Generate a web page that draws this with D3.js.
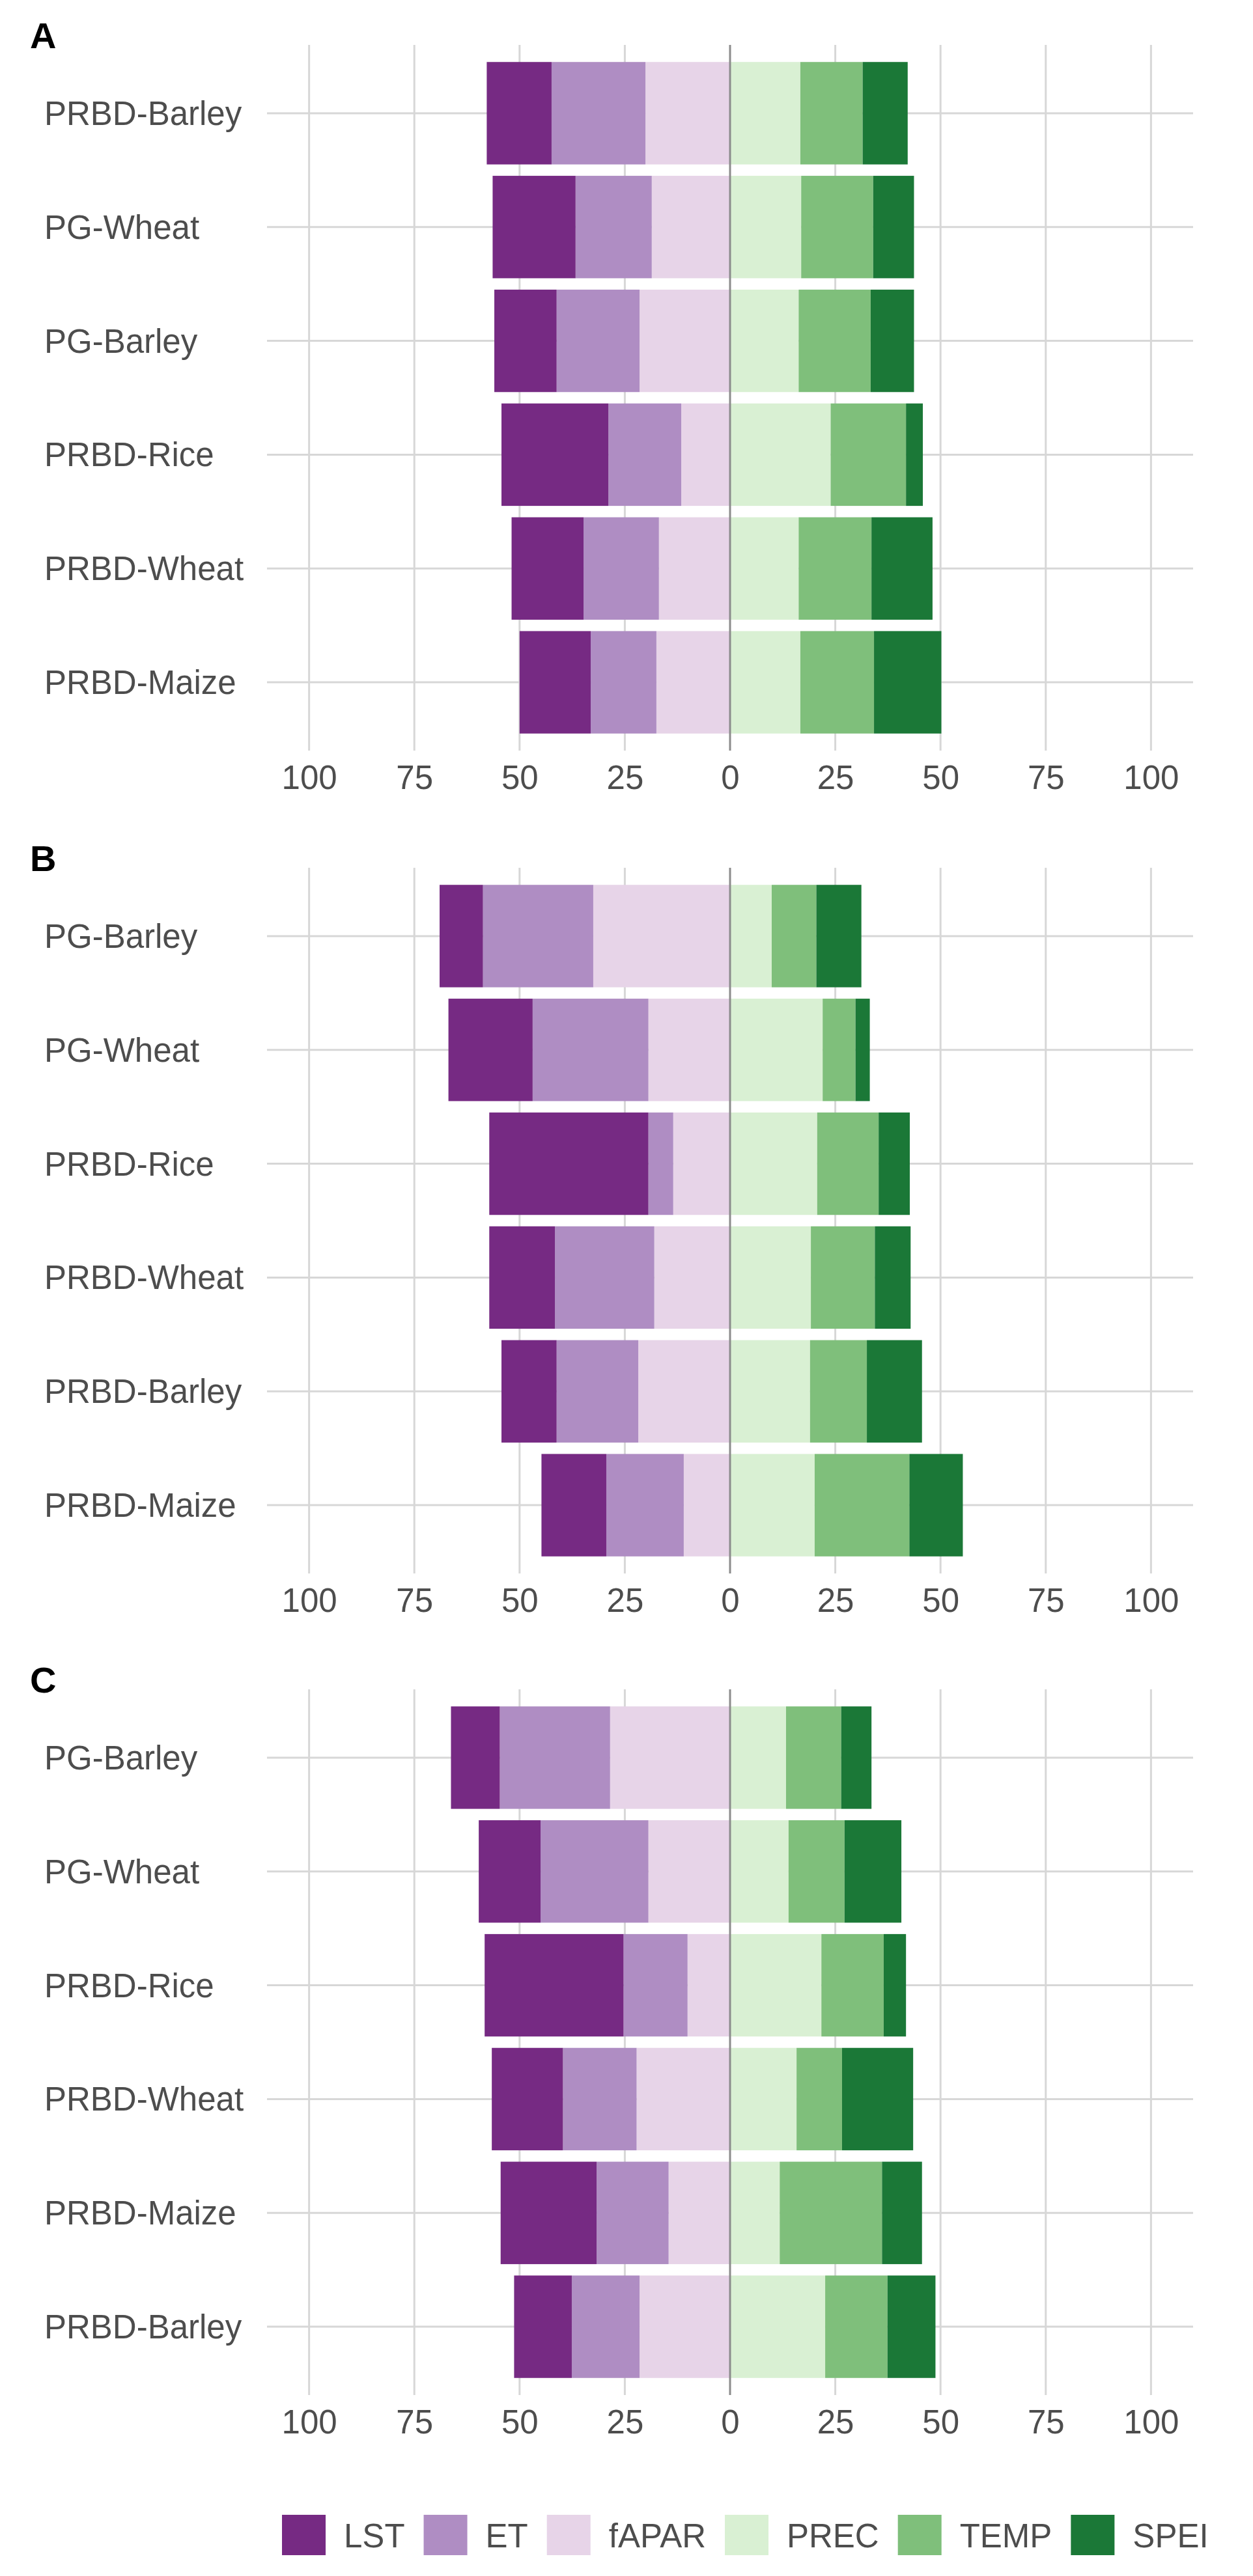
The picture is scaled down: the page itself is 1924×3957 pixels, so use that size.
<!DOCTYPE html>
<html>
<head>
<meta charset="utf-8">
<script src="https://cdn.jsdelivr.net/npm/d3@7"></script>
<style>
  html, body { margin: 0; padding: 0; background: #fff; }
  svg { display: block; }
  text { font-family: "Liberation Sans", Arial, Helvetica, sans-serif; }
</style>
</head>
<body>
<svg id="chart" width="1924" height="3957"></svg>
<script>
// ---------------- DATA ----------------
const seriesNames = ["LST", "ET", "fAPAR", "PREC", "TEMP", "SPEI"];
const seriesColors = ["#762A83", "#AF8DC3", "#E7D4E8", "#D9F0D3", "#7FBF7B", "#1B7837"];
const panelLabels = ["A", "B", "C"];
const xTickValues = [-100, -75, -50, -25, 0, 25, 50, 75, 100];

// Panel A
const catsA  = ["PRBD-Barley", "PG-Wheat", "PG-Barley", "PRBD-Rice", "PRBD-Wheat", "PRBD-Maize"];
const lstA   = [15.4, 19.7, 14.8, 25.4, 17.1, 16.9];
const etA    = [22.3, 18.1, 19.7, 17.3, 17.9, 15.6];
const faparA = [20.1, 18.6, 21.5, 11.6, 16.9, 17.5];
const precA  = [16.7, 16.9, 16.3, 23.9, 16.3, 16.7];
const tempA  = [14.8, 17.1, 17.1, 17.9, 17.3, 17.5];
const speiA  = [10.7,  9.7, 10.3,  4.0, 14.5, 16.0];

// Panel B
const catsB  = ["PG-Barley", "PG-Wheat", "PRBD-Rice", "PRBD-Wheat", "PRBD-Barley", "PRBD-Maize"];
const lstB   = [10.3, 20.0, 37.8, 15.6, 13.1, 15.4];
const etB    = [26.2, 27.5,  5.9, 23.6, 19.4, 18.4];
const faparB = [32.5, 19.4, 13.5, 18.0, 21.8, 11.0];
const precB  = [ 9.9, 22.0, 20.7, 19.2, 19.0, 20.1];
const tempB  = [10.6,  7.8, 14.6, 15.2, 13.5, 22.5];
const speiB  = [10.7,  3.4,  7.4,  8.5, 13.1, 12.7];

// Panel C
const catsC  = ["PG-Barley", "PG-Wheat", "PRBD-Rice", "PRBD-Wheat", "PRBD-Maize", "PRBD-Barley"];
const lstC   = [11.6, 14.7, 33.0, 16.9, 22.8, 13.7];
const etC    = [26.2, 25.6, 15.2, 17.5, 17.1, 16.1];
const faparC = [28.5, 19.4, 10.1, 22.2, 14.6, 21.5];
const precC  = [13.3, 13.9, 21.7, 15.8, 11.8, 22.6];
const tempC  = [13.1, 13.3, 14.8, 10.8, 24.3, 14.8];
const speiC  = [ 7.2, 13.5,  5.3, 16.9,  9.5, 11.4];

// ---------------- BUILD TABLES ----------------
function buildRows(cats, lst, et, fapar, prec, temp, spei) {
  return cats.map((c, i) => ({
    cat: c,
    LST: -lst[i], ET: -et[i], fAPAR: -fapar[i],
    PREC: prec[i], TEMP: temp[i], SPEI: spei[i]
  }));
}
const panels = [
  { label: panelLabels[0], cats: catsA, rows: buildRows(catsA, lstA, etA, faparA, precA, tempA, speiA) },
  { label: panelLabels[1], cats: catsB, rows: buildRows(catsB, lstB, etB, faparB, precB, tempB, speiB) },
  { label: panelLabels[2], cats: catsC, rows: buildRows(catsC, lstC, etC, faparC, precC, tempC, speiC) }
];

// ---------------- LAYOUT ----------------
const svg = d3.select("#chart");
const FONT = 51;
const panelTops = [69, 1333, 2595];
const panelH = 1084;
const plotLeft = 410, plotRight = 1832;
const gridColor = "#d7d7d7";
const textColor = "#4d4d4d";

const color = d3.scaleOrdinal().domain(seriesNames).range(seriesColors);
const x = d3.scaleLinear().domain([-110, 110]).range([plotLeft, plotRight]);

const stackOrder = ["fAPAR", "ET", "LST", "PREC", "TEMP", "SPEI"];
const stack = d3.stack().keys(stackOrder).offset(d3.stackOffsetDiverging);

panels.forEach((p, pi) => {
  const top = panelTops[pi];
  const g = svg.append("g");
  const y = d3.scaleBand()
    .domain(p.cats)
    .range([top, top + panelH])
    .paddingInner(0.1)
    .paddingOuter(0.15);

  // panel tag
  g.append("text")
    .attr("x", 46).attr("y", top + 5)
    .attr("font-size", 56).attr("font-weight", "bold")
    .attr("fill", "#000")
    .text(p.label);

  // vertical grid
  g.append("g").selectAll("line")
    .data(xTickValues.filter(v => v !== 0))
    .join("line")
    .attr("x1", d => x(d)).attr("x2", d => x(d))
    .attr("y1", top).attr("y2", top + panelH)
    .attr("stroke", gridColor).attr("stroke-width", 3);

  // horizontal grid
  g.append("g").selectAll("line")
    .data(p.cats)
    .join("line")
    .attr("x1", plotLeft).attr("x2", plotRight)
    .attr("y1", d => y(d) + y.bandwidth() / 2)
    .attr("y2", d => y(d) + y.bandwidth() / 2)
    .attr("stroke", gridColor).attr("stroke-width", 3);

  // bars
  const stacked = stack(p.rows);
  g.append("g").selectAll("g")
    .data(stacked)
    .join("g")
    .attr("fill", d => color(d.key))
    .selectAll("rect")
    .data(d => d)
    .join("rect")
    .attr("x", d => x(Math.min(d[0], d[1])))
    .attr("width", d => Math.abs(x(d[1]) - x(d[0])))
    .attr("y", d => y(d.data.cat))
    .attr("height", y.bandwidth());

  // zero line
  g.append("line")
    .attr("x1", x(0)).attr("x2", x(0))
    .attr("y1", top).attr("y2", top + panelH)
    .attr("stroke", "#8c8c8c").attr("stroke-width", 3);

  // category labels (left aligned)
  g.append("g").selectAll("text")
    .data(p.cats)
    .join("text")
    .attr("x", 68)
    .attr("y", d => y(d) + y.bandwidth() / 2 + 18)
    .attr("font-size", FONT)
    .attr("fill", textColor)
    .text(d => d);

  // x axis
  const axis = d3.axisBottom(x)
    .tickValues(xTickValues)
    .tickSize(0)
    .tickFormat(d => String(Math.abs(d)));
  const ax = g.append("g")
    .attr("transform", `translate(0,${top + panelH})`)
    .call(axis);
  ax.select(".domain").remove();
  ax.selectAll("text")
    .attr("y", 59).attr("dy", 0)
    .attr("font-size", FONT)
    .attr("font-family", "Liberation Sans, Arial, sans-serif")
    .attr("fill", textColor);
});

// ---------------- LEGEND ----------------
const legend = svg.append("g");
let lx = 433;
const keyW = 67, keyH = 62, keyTop = 3863;
seriesNames.forEach((name) => {
  legend.append("rect")
    .attr("x", lx).attr("y", keyTop)
    .attr("width", keyW).attr("height", keyH)
    .attr("fill", color(name));
  const t = legend.append("text")
    .attr("x", lx + keyW + 28).attr("y", 3913)
    .attr("font-size", FONT).attr("fill", textColor)
    .text(name);
  lx = lx + keyW + 28 + t.node().getComputedTextLength() + 29;
});
</script>
</body>
</html>
